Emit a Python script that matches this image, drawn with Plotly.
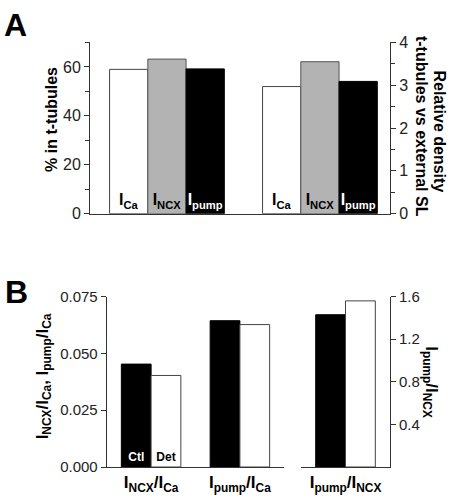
import plotly.graph_objects as go

# ---------------- data ----------------
a_groups = ["pct", "density"]
a_labels = ["I<sub>Ca</sub>", "I<sub>NCX</sub>", "I<sub>pump</sub>"]
pct_in_ttubules = [59.0, 63.2, 59.2]
rel_density = [2.97, 3.55, 3.09]

b_left_cats = ["I<sub>NCX</sub>/I<sub>Ca</sub>", "I<sub>pump</sub>/I<sub>Ca</sub>"]
b_right_cats = ["I<sub>pump</sub>/I<sub>NCX</sub>"]
b_series = ["Ctl", "Det"]
ctl_left = [0.0453, 0.0644]
det_left = [0.0403, 0.0627]
ctl_right = [1.43]
det_right = [1.56]

FONT = "Liberation Sans, Arial, sans-serif"
W, H = 450, 503
AXC = "#333333"

fills = ["white", "#b3b3b3", "black"]
lines = ["#444444", "#555555", "black"]
tcols = ["black", "black", "white"]

fig = go.Figure()

# Panel A
bw = 0.25
for k in range(3):
    for g, (vals, yax) in enumerate([(pct_in_ttubules, "y"), (rel_density, "y2")]):
        fig.add_trace(go.Bar(
            x=[a_groups[g]], y=[vals[k]], xaxis="x", yaxis=yax,
            width=bw, offset=-1.5 * bw + k * bw,
            marker=dict(color=fills[k], line=dict(color=lines[k], width=1)),
            text=[a_labels[k]], textposition="inside", insidetextanchor="start",
            textangle=0, constraintext="none", cliponaxis=False,
            textfont=dict(family=FONT, size=16, color=tcols[k], weight="bold"),
            showlegend=False, hoverinfo="skip"))

# Panel B
bw2 = 0.335
bfill = ["black", "white"]
bline = ["black", "#444444"]
btc = ["white", "black"]
for s, (lv, rv) in enumerate([(ctl_left, ctl_right), (det_left, det_right)]):
    fig.add_trace(go.Bar(
        x=b_left_cats, y=lv, xaxis="x2", yaxis="y3",
        width=bw2, offset=-bw2 + s * bw2,
        marker=dict(color=bfill[s], line=dict(color=bline[s], width=1)),
        text=[b_series[s], ""], textposition="inside", insidetextanchor="start",
        textangle=0, constraintext="none",
        textfont=dict(family=FONT, size=12, color=btc[s], weight="bold"),
        showlegend=False, hoverinfo="skip"))
    fig.add_trace(go.Bar(
        x=b_right_cats, y=rv, xaxis="x3", yaxis="y4",
        width=bw2, offset=-bw2 + s * bw2,
        marker=dict(color=bfill[s], line=dict(color=bline[s], width=1)),
        showlegend=False, hoverinfo="skip"))

def px_x(p):
    return p / W

def px_y(p):
    return 1 - p / H

tickfont = dict(family=FONT, size=16, color="#222222")
tickfontB = dict(family=FONT, size=15, color="#222222")

yA = [px_y(212.3), px_y(34.7)]
yB = [px_y(475), px_y(298.3)]

fig.update_layout(
    width=W, height=H, margin=dict(l=0, r=0, t=0, b=0),
    paper_bgcolor="white", plot_bgcolor="white",
    barmode="overlay", font=dict(family=FONT, color="black"),
    xaxis=dict(domain=[px_x(90), px_x(390)], anchor="y", type="category",
               range=[-0.503, 1.458], showline=True, linecolor=AXC, linewidth=1,
               showticklabels=False, ticks="", showgrid=False, zeroline=False),
    yaxis=dict(domain=yA, anchor="x", range=[0, 70], tickvals=[0, 20, 40, 60],
               ticks="outside", ticklen=5, tickcolor=AXC, showline=True,
               linecolor=AXC, linewidth=1, showgrid=False, zeroline=False,
               tickfont=tickfont,
               minor=dict(tickvals=[10, 30, 50, 70], ticks="outside", ticklen=4, tickcolor=AXC)),
    yaxis2=dict(domain=yA, anchor="x", overlaying="y", side="right", range=[0, 4],
                tickvals=[0, 1, 2, 3, 4], ticks="outside", ticklen=5, tickcolor=AXC,
                showline=True, linecolor=AXC, linewidth=1, showgrid=False,
                zeroline=False, tickfont=tickfont,
                minor=dict(tickvals=[0.5, 1.5, 2.5, 3.5], ticks="outside", ticklen=4, tickcolor=AXC)),
    xaxis2=dict(domain=[px_x(106.7), px_x(284.3)], anchor="y3", type="category",
                range=[-0.5, 1.5], showline=True, linecolor=AXC, linewidth=1,
                ticks="", showgrid=False, zeroline=False,
                tickfont=dict(family=FONT, size=17, color="black", weight="bold")),
    yaxis3=dict(domain=yB, anchor="x2", range=[0, 0.075],
                tickvals=[0, 0.025, 0.05, 0.075], tickformat=".3f",
                ticks="outside", ticklen=5, tickcolor=AXC, showline=True,
                linecolor=AXC, linewidth=1, showgrid=False, zeroline=False,
                tickfont=tickfontB),
    xaxis3=dict(domain=[px_x(301), px_x(390)], anchor="y4", type="category",
                range=[-0.5, 0.5], showline=True, linecolor=AXC, linewidth=1,
                ticks="", showgrid=False, zeroline=False,
                tickfont=dict(family=FONT, size=17, color="black", weight="bold")),
    yaxis4=dict(domain=yB, anchor="x3", side="right", range=[0, 1.6],
                tickvals=[0.4, 0.8, 1.2, 1.6], tickformat=".1f",
                ticks="outside", ticklen=5, tickcolor=AXC, showline=True,
                linecolor=AXC, linewidth=1, showgrid=False, zeroline=False,
                tickfont=tickfontB),
)

def ann(text, x, y, size=16, angle=0):
    fig.add_annotation(text=text, x=px_x(x), y=px_y(y), xref="paper", yref="paper",
                       showarrow=False, textangle=angle, xanchor="center", yanchor="middle",
                       font=dict(family=FONT, size=size, color="black", weight="bold"))

ann("A", 15, 17, size=32)
ann("B", 16, 294, size=32)
ann("% in t-tubules", 52, 115, angle=-90)
ann("Relative density", 440, 127, angle=90)
ann("t-tubules vs external SL", 421.7, 122, angle=90)
ann("I<sub>NCX</sub>/I<sub>Ca</sub>, I<sub>pump</sub>/I<sub>Ca</sub>", 44, 381, size=17, angle=-90)
ann("I<sub>pump</sub>/I<sub>NCX</sub>", 430, 387, size=17, angle=90)

fig.write_html(
    "out.html",
    config={"displayModeBar": False},
    post_script="document.body.style.margin='0';document.body.style.overflow='hidden';",
)
